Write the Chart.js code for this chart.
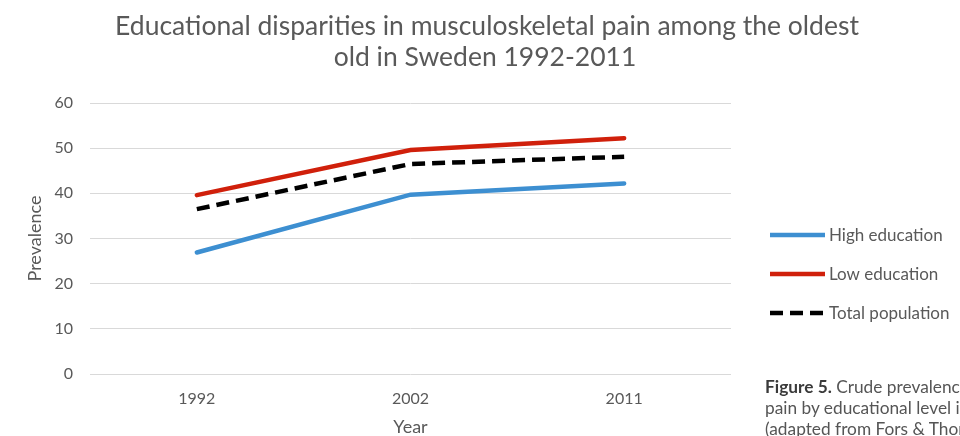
<!DOCTYPE html>
<html>
<head>
<meta charset="utf-8">
<script src="https://cdn.jsdelivr.net/npm/chart.js@4"></script>
<style>
  html, body { margin: 0; padding: 0; background: #fff; overflow: hidden; }
  #wrap { position: relative; width: 960px; height: 436px; }
  #c { position: absolute; left: 0; top: 0; }
  #caption {
    position: absolute; left: 765px; top: 376px; white-space: nowrap;
    font-family: Lato, "Open Sans", sans-serif; font-size: 17.3px; line-height: 21px;
    color: #555;
  }
  #caption b { color: #3a3a3a; }
</style>
</head>
<body>
<div id="wrap">
  <canvas id="c" width="960" height="436"></canvas>
  <div id="caption">
    <div><b>Figure 5.</b> Crude prevalence of musculoskeletal</div>
    <div>pain by educational level in</div>
    <div>(adapted from Fors &amp; Thorslund</div>
  </div>
</div>
<script>
const titleLines = ["Educational disparities in musculoskeletal pain among the oldest", "old in Sweden 1992-2011"];
const years = ["1992", "2002", "2011"];
const highEducation = [26.9, 39.7, 42.2];
const lowEducation = [39.6, 49.6, 52.2];
const totalPopulation = [36.5, 46.5, 48.1];
const seriesNames = ["High education", "Low education", "Total population"];
const yTicks = [0, 10, 20, 30, 40, 50, 60];

const FONT = 'Lato, "Open Sans", sans-serif';
const GRAY = '#595959';

const titlePlugin = {
  id: 'centerTitle',
  afterDraw(chart) {
    const ctx = chart.ctx;
    ctx.save();
    ctx.fillStyle = GRAY;
    ctx.font = '26.5px ' + FONT;
    ctx.textAlign = 'center';
    ctx.textBaseline = 'middle';
    ctx.fillText(titleLines[0], 487, 26);
    ctx.fillText(titleLines[1], 485, 57);
    ctx.restore();
  }
};

const legendPlugin = {
  id: 'sideLegend',
  afterDraw(chart) {
    const ctx = chart.ctx;
    const rowsY = [235, 274, 313];
    chart.data.datasets.forEach((ds, i) => {
      const y = rowsY[i];
      ctx.save();
      ctx.strokeStyle = ds.borderColor;
      ctx.lineWidth = ds.borderWidth;
      ctx.lineCap = 'butt';
      ctx.setLineDash(ds.borderDash || []);
      ctx.beginPath();
      ctx.moveTo(770, y);
      ctx.lineTo(825, y);
      ctx.stroke();
      ctx.setLineDash([]);
      ctx.fillStyle = GRAY;
      ctx.font = '17px ' + FONT;
      ctx.textBaseline = 'middle';
      ctx.textAlign = 'left';
      ctx.fillText(ds.label, 829, y + 1);
      ctx.restore();
    });
  }
};

new Chart(document.getElementById('c'), {
  type: 'line',
  data: {
    labels: years,
    datasets: [
      { label: seriesNames[0], data: highEducation, borderColor: '#3d8fd1', borderWidth: 4.5, borderCapStyle: 'round' },
      { label: seriesNames[1], data: lowEducation, borderColor: '#d0200b', borderWidth: 4.5, borderCapStyle: 'round' },
      { label: seriesNames[2], data: totalPopulation, borderColor: '#000000', borderWidth: 4.5, borderDash: [13, 7] }
    ]
  },
  options: {
    responsive: false,
    animation: false,
    layout: { padding: { left: 0, right: 229, top: 103, bottom: 0 } },
    elements: { point: { radius: 0 }, line: { tension: 0 } },
    plugins: {
      legend: { display: false },
      tooltip: { enabled: false },
      title: { display: false }
    },
    scales: {
      x: {
        offset: true,
        grid: { display: false, drawTicks: false },
        border: { display: false },
        ticks: { color: GRAY, font: { family: FONT, size: 16 }, padding: 15 },
        title: { display: true, text: 'Year', color: GRAY, font: { family: FONT, size: 18, lineHeight: 1.0 }, padding: { top: 4, bottom: 0 } },
        afterFit(scale) { scale.height = 62; }
      },
      y: {
        min: 0, max: 60,
        afterBuildTicks(scale) { scale.ticks = yTicks.map(v => ({ value: v })); },
        grid: { color: '#d9d9d9', lineWidth: 1, drawTicks: false },
        border: { display: false },
        ticks: { color: GRAY, font: { family: FONT, size: 16 }, padding: 17 },
        title: { display: true, text: 'Prevalence', color: GRAY, font: { family: FONT, size: 18 }, padding: { top: 24, bottom: 0 } },
        afterFit(scale) { scale.width = 90; }
      }
    }
  },
  plugins: [titlePlugin, legendPlugin]
});
</script>
</body>
</html>
